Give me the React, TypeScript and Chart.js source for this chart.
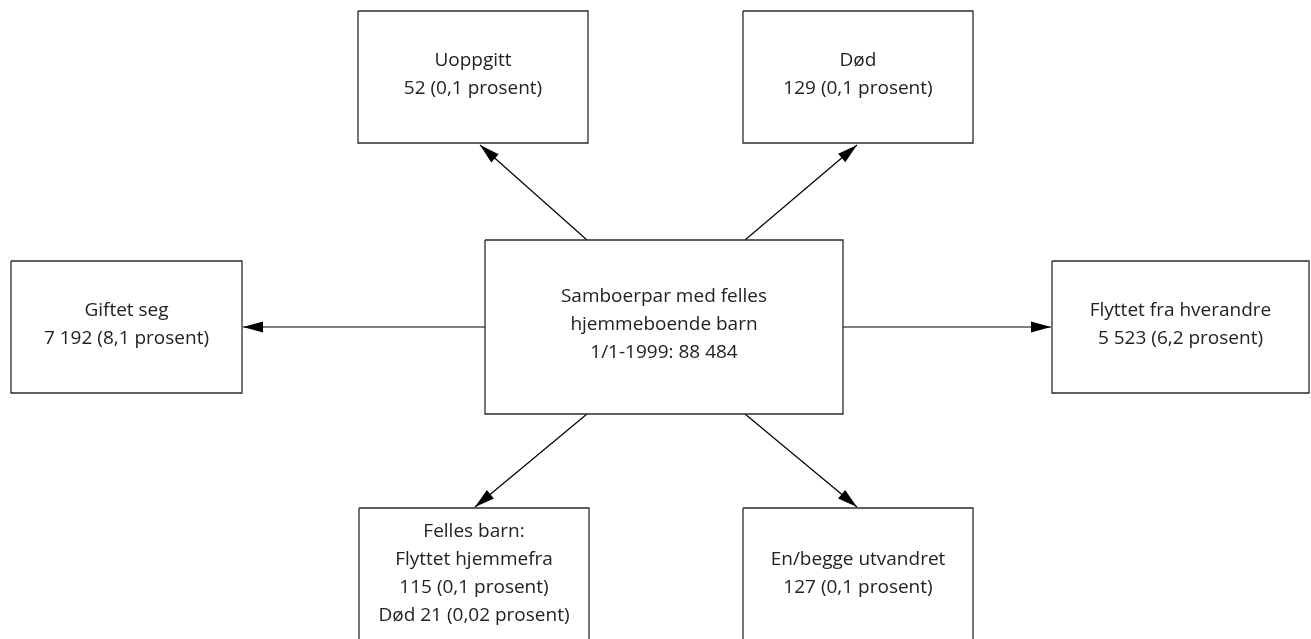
import { useEffect, useRef } from "react";
import { Chart, registerables } from "chart.js";

Chart.register(...registerables);

const W = 1311;
const H = 639;

// Box contents
const boxTexts: string[][] = [
  ["Samboerpar med felles", "hjemmeboende barn", "1/1-1999: 88 484"],
  ["Uoppgitt", "52 (0,1 prosent)"],
  ["Død", "129 (0,1 prosent)"],
  ["Giftet seg", "7 192 (8,1 prosent)"],
  ["Flyttet fra hverandre", "5 523 (6,2 prosent)"],
  ["Felles barn:", "Flyttet hjemmefra", "115 (0,1 prosent)", "Død 21 (0,02 prosent)"],
  ["En/begge utvandret", "127 (0,1 prosent)"],
];
// Box extents in diagram units
const boxLeft = [485, 358, 743, 11, 1052, 359, 743];
const boxRight = [843, 588, 973, 242, 1309, 589, 973];
const boxTop = [240, 11, 11, 261, 261, 508, 508];
const boxBottom = [414, 143, 143, 393, 393, 644, 644];

// Arrows (from centre box to outcome boxes)
const arrowFromX = [587, 745, 485, 843, 587, 745];
const arrowFromY = [240, 240, 327, 327, 414, 414];
const arrowToX = [480, 857, 243, 1051, 475, 857];
const arrowToY = [145, 145, 327, 327, 507, 507];

const FONT = "'Open Sans', 'Noto Sans', sans-serif";

export default function App() {
  const ref = useRef<HTMLCanvasElement | null>(null);

  useEffect(() => {
    document.body.style.margin = "0";
    const canvas = ref.current;
    if (!canvas) return;

    const boxSets = boxLeft.map((l, i) => ({
      data: [
        { x: l, y: boxTop[i] },
        { x: boxRight[i], y: boxTop[i] },
        { x: boxRight[i], y: boxBottom[i] },
        { x: l, y: boxBottom[i] },
        { x: l, y: boxTop[i] },
      ],
      showLine: true,
      borderColor: "#2b2b2b",
      borderWidth: 1.3,
      pointRadius: 0,
      tension: 0,
      clip: false as any,
    }));
    const arrowSets = arrowFromX.map((fx, i) => ({
      data: [
        { x: fx, y: arrowFromY[i] },
        { x: arrowToX[i], y: arrowToY[i] },
      ],
      showLine: true,
      borderColor: "#000",
      borderWidth: 1.2,
      pointRadius: 0,
      tension: 0,
      clip: false as any,
    }));

    const overlay = {
      id: "diagramOverlay",
      afterDatasetsDraw(chart: any) {
        const ctx = chart.ctx;
        const xs = chart.scales.x;
        const ys = chart.scales.y;
        ctx.save();
        // arrow heads
        ctx.fillStyle = "#000";
        for (let i = 0; i < arrowFromX.length; i++) {
          const x0 = xs.getPixelForValue(arrowFromX[i]);
          const y0 = ys.getPixelForValue(arrowFromY[i]);
          const x1 = xs.getPixelForValue(arrowToX[i]);
          const y1 = ys.getPixelForValue(arrowToY[i]);
          const a = Math.atan2(y1 - y0, x1 - x0);
          const len = 20;
          const hw = 5.5;
          const bx = x1 - len * Math.cos(a);
          const by = y1 - len * Math.sin(a);
          ctx.beginPath();
          ctx.moveTo(x1, y1);
          ctx.lineTo(bx + hw * Math.sin(a), by - hw * Math.cos(a));
          ctx.lineTo(bx - hw * Math.sin(a), by + hw * Math.cos(a));
          ctx.closePath();
          ctx.fill();
        }
        // texts
        ctx.fillStyle = "#222";
        ctx.font = `19px ${FONT}`;
        ctx.textAlign = "center";
        ctx.textBaseline = "middle";
        const lh = 28;
        for (let i = 0; i < boxTexts.length; i++) {
          const cx = (xs.getPixelForValue(boxLeft[i]) + xs.getPixelForValue(boxRight[i])) / 2;
          const cy = (ys.getPixelForValue(boxTop[i]) + ys.getPixelForValue(boxBottom[i])) / 2;
          const lines = boxTexts[i];
          const start = cy - ((lines.length - 1) * lh) / 2 - 2;
          lines.forEach((t, k) => ctx.fillText(t, cx, start + k * lh));
        }
        ctx.restore();
      },
    };

    const chart = new Chart(canvas, {
      type: "scatter",
      data: { datasets: [...boxSets, ...arrowSets] as any },
      options: {
        animation: false,
        responsive: false,
        events: [],
        layout: { padding: 0 },
        plugins: { legend: { display: false }, tooltip: { enabled: false } },
        scales: {
          x: { type: "linear", min: 0, max: W, display: false },
          y: { type: "linear", min: 0, max: H, reverse: true, display: false },
        },
      },
      plugins: [overlay],
    });
    return () => chart.destroy();
  }, []);

  return (
    <div style={{ width: W, height: H, background: "#fff" }}>
      <canvas ref={ref} width={W} height={H} style={{ display: "block" }} />
    </div>
  );
}
